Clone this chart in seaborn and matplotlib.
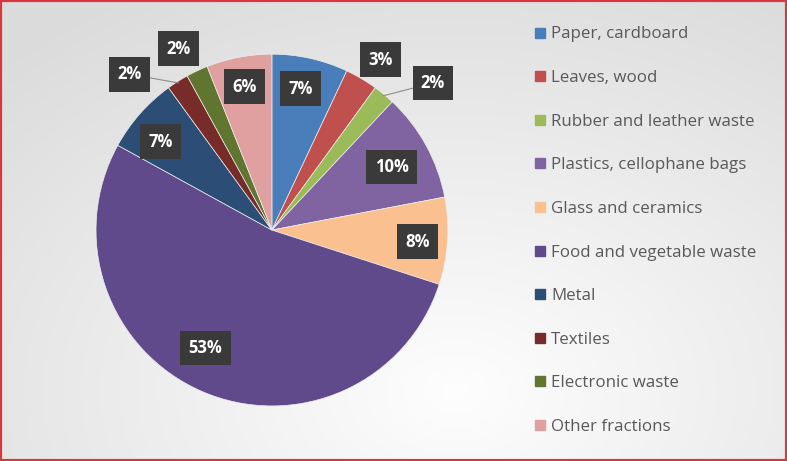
import numpy as np
import matplotlib.pyplot as plt
import seaborn as sns
from matplotlib.lines import Line2D
from matplotlib.patches import Rectangle

# --- data ---
categories = ['Paper, cardboard', 'Leaves, wood', 'Rubber and leather waste',
              'Plastics, cellophane bags', 'Glass and ceramics',
              'Food and vegetable waste', 'Metal', 'Textiles',
              'Electronic waste', 'Other fractions']
shares = [7, 3, 2, 10, 8, 53, 7, 2, 2, 6]
colors_hex = ['#4a7ebb', '#c0504d', '#9bbb59', '#8064a2', '#fac08f',
              '#604a8b', '#2c4d75', '#772c2a', '#5f7530', '#e0a0a0']

# label placement: fraction of radius, angle nudge (deg), leader line or not
label_radius = [0.82, 1.15, 1.24, 0.77, 0.83, 0.77, 0.81, 1.20, 1.16, 0.83]
label_nudge = [1, -2, -8, -1, -1, -6, 3, 10, 2, 0]
leader = [False, False, True, False, False, False, False, True, False, False]

sns.set_theme(style="white")
plt.rcParams['font.family'] = ['Open Sans', 'DejaVu Sans']
palette = sns.color_palette(colors_hex)

fig = plt.figure(figsize=(7.87, 4.61), dpi=100)

# soft grey background gradient
bg = fig.add_axes([0, 0, 1, 1])
xx, yy = np.meshgrid(np.linspace(0, 1, 400), np.linspace(0, 1, 240))
d = np.sqrt(((xx - 0.58) * 1.2) ** 2 + (yy - 0.15) ** 2)
t = np.clip(d / 1.0, 0, 1)
lo, hi = np.array([0.995, 0.995, 0.995]), np.array([0.86, 0.86, 0.86])
img = lo + (hi - lo) * t[..., None]
bg.imshow(img, extent=[0, 1, 0, 1], origin='lower', aspect='auto')
bg.axis('off')

ax = fig.add_axes([0.122, 0.119, 0.447, 0.764])
wedges, _ = ax.pie(shares, colors=palette, startangle=90, counterclock=False,
                   radius=1, wedgeprops=dict(linewidth=0.5, edgecolor='#eeeeee'))
ax.set_xlim(-1, 1)
ax.set_ylim(-1, 1)
ax.set_aspect('equal')
ax.axis('off')

for w, v, r, nud, ld in zip(wedges, shares, label_radius, label_nudge, leader):
    mid = np.deg2rad((w.theta1 + w.theta2) / 2)
    lab = mid + np.deg2rad(nud)
    xy_edge = (np.cos(mid) * 0.99, np.sin(mid) * 0.99)
    xy_lab = (np.cos(lab) * r, np.sin(lab) * r)
    arrow = dict(arrowstyle='-', color='#8c8c8c', lw=0.8, shrinkA=0, shrinkB=0) if ld else None
    ax.annotate(f"{v}%", xy=xy_edge, xytext=xy_lab, ha='center', va='center',
                color='white', fontsize=12, fontweight='bold',
                bbox=dict(boxstyle='square,pad=0.5', fc='#3a3a3a', ec='none'),
                arrowprops=arrow)

handles = [Line2D([], [], marker='s', ls='none', markersize=6.5, color=c) for c in palette]
fig.legend(handles, categories, loc='upper left', bbox_to_anchor=(0.668, 0.961),
           frameon=False, fontsize=12.2, labelcolor='#595959', handlelength=0.7,
           handletextpad=0.3, labelspacing=1.63, borderpad=0)

fig.patches.append(Rectangle((0, 0), 1, 1, transform=fig.transFigure, fill=False,
                             ec='#d9363e', lw=3))

fig.savefig('out.png', dpi=100)
